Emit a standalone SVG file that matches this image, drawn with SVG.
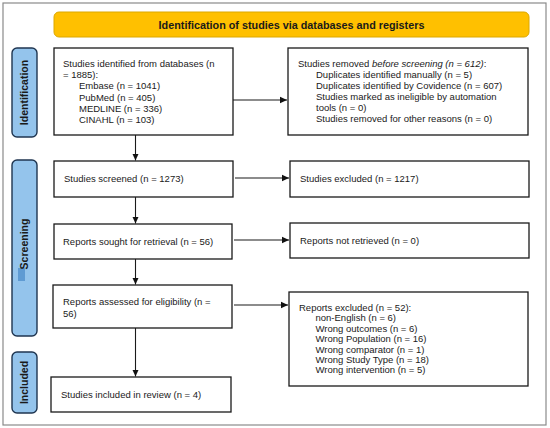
<svg xmlns="http://www.w3.org/2000/svg" width="550" height="428" viewBox="0 0 550 428">
<defs>
<marker id="ah" markerWidth="8" markerHeight="8" refX="7" refY="4" orient="auto" markerUnits="userSpaceOnUse">
<path d="M0,0.8 L7,4 L0,7.2 Z" fill="#111"/>
</marker>
<style>
.box{fill:#fff;stroke:#1a1a1a;stroke-width:1.3}
.lbl{fill:#94c4ec;stroke:#1f3550;stroke-width:1.4}
.t{font-family:"Liberation Sans",Arial,sans-serif;font-size:9.5px;fill:#1a1a1a}
.lt{font-family:"Liberation Sans",Arial,sans-serif;font-size:10.5px;font-weight:bold;fill:#1a1a1a}
.conn{stroke:#1a1a1a;stroke-width:1.1;fill:none}
</style>
</defs>
<rect x="0" y="0" width="550" height="428" fill="#fff"/>
<rect x="3" y="3" width="543" height="422" fill="#fff" stroke="#8a8a8a" stroke-width="1.2"/>

<g id="header">
<rect x="54" y="12" width="475" height="25" rx="5" fill="#ffc000" stroke="#dca800" stroke-width="1"/>
<text x="291.5" y="28.5" text-anchor="middle" font-family="Liberation Sans,Arial,sans-serif" font-size="10.8" font-weight="bold" fill="#1a1a1a">Identification of studies via databases and registers</text>
</g>

<g id="label-identification">
<rect class="lbl" x="12" y="48" width="25" height="89" rx="5"/>
<text class="lt" transform="translate(28.3,92.5) rotate(-90)" text-anchor="middle">Identification</text>
</g>
<g id="label-screening">
<rect class="lbl" x="12" y="160" width="25" height="176" rx="5"/>
<rect x="18" y="268" width="7" height="13" fill="#5f9bd3"/>
<text class="lt" transform="translate(28.3,244) rotate(-90)" text-anchor="middle">Screening</text>
</g>
<g id="label-included">
<rect class="lbl" x="12" y="352" width="25" height="61" rx="5"/>
<text class="lt" transform="translate(28.3,382.5) rotate(-90)" text-anchor="middle">Included</text>
</g>

<g id="n-identified">
<rect class="box" x="54" y="48" width="179" height="87"/>
<text class="t" x="63" y="67">Studies identified from databases (n</text>
<text class="t" x="63" y="78.2">= 1885):</text>
<text class="t" x="79" y="89.4">Embase (n = 1041)</text>
<text class="t" x="79" y="100.6">PubMed (n = 405)</text>
<text class="t" x="79" y="111.8">MEDLINE (n = 336)</text>
<text class="t" x="79" y="123">CINAHL (n = 103)</text>
</g>

<g id="n-removed">
<rect class="box" x="288" y="48" width="240" height="87"/>
<text class="t" x="298" y="67">Studies removed <tspan font-style="italic">before screening (n = 612)</tspan>:</text>
<text class="t" x="316" y="78">Duplicates identified manually (n = 5)</text>
<text class="t" x="316" y="89">Duplicates identified by Covidence (n = 607)</text>
<text class="t" x="316" y="100">Studies marked as ineligible by automation</text>
<text class="t" x="316" y="111">tools (n = 0)</text>
<text class="t" x="316" y="122">Studies removed for other reasons (n = 0)</text>
</g>

<g id="n-screened">
<rect class="box" x="54" y="161" width="179" height="36"/>
<text class="t" x="64" y="182">Studies screened (n = 1273)</text>
</g>
<g id="n-excluded">
<rect class="box" x="290" y="161" width="239" height="36"/>
<text class="t" x="300" y="182">Studies excluded (n = 1217)</text>
</g>

<g id="n-sought">
<rect class="box" x="54" y="224" width="178" height="35"/>
<text class="t" x="63" y="244.5">Reports sought for retrieval (n = 56)</text>
</g>
<g id="n-notretrieved">
<rect class="box" x="290" y="223" width="239" height="35"/>
<text class="t" x="300" y="243.5">Reports not retrieved (n = 0)</text>
</g>

<g id="n-assessed">
<rect class="box" x="53" y="285" width="179" height="43"/>
<text class="t" x="63" y="305">Reports assessed for eligibility (n =</text>
<text class="t" x="63" y="316.5">56)</text>
</g>
<g id="n-reportsexcluded">
<rect class="box" x="289" y="292" width="239" height="94"/>
<text class="t" x="299" y="310.7">Reports excluded (n = 52):</text>
<text class="t" x="315.5" y="321.1">non-English (n = 6)</text>
<text class="t" x="315.5" y="331.6">Wrong outcomes (n = 6)</text>
<text class="t" x="315.5" y="342">Wrong Population (n = 16)</text>
<text class="t" x="315.5" y="352.5">Wrong comparator (n = 1)</text>
<text class="t" x="315.5" y="362.9">Wrong Study Type (n = 18)</text>
<text class="t" x="315.5" y="373.4">Wrong intervention (n = 5)</text>
</g>

<g id="n-included">
<rect class="box" x="51" y="377" width="180" height="35"/>
<text class="t" x="61" y="398">Studies included in review (n = 4)</text>
</g>

<g id="connectors">
<line class="conn" x1="233" y1="100" x2="287" y2="100" marker-end="url(#ah)"/>
<line class="conn" x1="235" y1="178" x2="289" y2="178" marker-end="url(#ah)"/>
<line class="conn" x1="234" y1="240" x2="289" y2="240" marker-end="url(#ah)"/>
<line class="conn" x1="234" y1="305" x2="288" y2="305" marker-end="url(#ah)"/>
<line class="conn" x1="135.5" y1="135" x2="135.5" y2="160.5" marker-end="url(#ah)"/>
<line class="conn" x1="135.5" y1="197" x2="135.5" y2="223.5" marker-end="url(#ah)"/>
<line class="conn" x1="135.5" y1="259" x2="135.5" y2="284.5" marker-end="url(#ah)"/>
<line class="conn" x1="135.5" y1="328" x2="135.5" y2="376.5" marker-end="url(#ah)"/>
</g>
</svg>
